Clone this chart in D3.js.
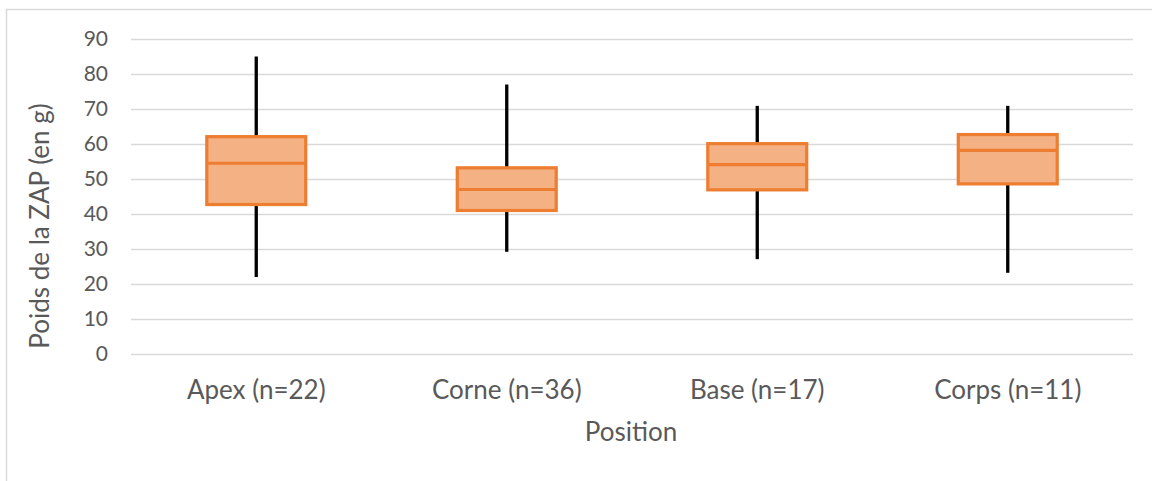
<!DOCTYPE html>
<html>
<head>
<meta charset="utf-8">
<script src="https://cdn.jsdelivr.net/npm/d3@7"></script>
<style>
  html, body { margin: 0; padding: 0; background: #fff; }
  svg { display: block; }
  text { font-family: Lato, "Open Sans", sans-serif; fill: #595959; }
</style>
</head>
<body>
<svg id="chart" width="1152" height="481"></svg>
<script>
const categories = ["Apex (n=22)", "Corne (n=36)", "Base (n=17)", "Corps (n=11)"];
const minValues    = [22, 29.2, 27.1, 23.2];
const q1Values     = [42.7, 41.0, 46.9, 48.6];
const medianValues = [54.5, 47.0, 54.1, 58.2];
const q3Values     = [62.1, 53.2, 60.1, 62.7];
const maxValues    = [85, 77, 70.9, 70.9];
const yTicks = [0, 10, 20, 30, 40, 50, 60, 70, 80, 90];
const xTitle = "Position";
const yTitle = "Poids de la ZAP (en g)";

const svg = d3.select("#chart");
const W = 1152, H = 481;
const plot = { left: 131, right: 1133, top: 39, bottom: 354 };

// chart border
svg.append("rect")
  .attr("x", 6.5).attr("y", 9.5)
  .attr("width", W + 10).attr("height", H + 10)
  .attr("fill", "#fff").attr("stroke", "#d9d9d9").attr("stroke-width", 1.5);

const x = d3.scaleBand().domain(categories).range([plot.left, plot.right]).padding(0);
const y = d3.scaleLinear().domain([0, 90]).range([plot.bottom, plot.top]);

// gridlines
const yAxis = d3.axisLeft(y).tickValues(yTicks).tickSize(-(plot.right - plot.left)).tickPadding(23);
const gy = svg.append("g").attr("transform", `translate(${plot.left},0)`).call(yAxis);
gy.select(".domain").remove();
gy.selectAll(".tick line").attr("stroke", "#d9d9d9").attr("stroke-width", 1.5);
gy.selectAll(".tick text").attr("font-size", 21).attr("fill", "#595959")
  .style("font-family", "Lato, sans-serif");

// x axis labels
const xAxis = d3.axisBottom(x).tickSize(0).tickPadding(0);
const gx = svg.append("g").attr("transform", `translate(0,${plot.bottom})`).call(xAxis);
gx.select(".domain").remove();
gx.selectAll(".tick text").attr("font-size", 26).attr("fill", "#595959")
  .attr("dy", null).attr("y", 45)
  .style("font-family", "Lato, sans-serif");

const data = categories.map((c, i) => ({
  cat: c, min: minValues[i], q1: q1Values[i], med: medianValues[i], q3: q3Values[i], max: maxValues[i]
}));

const boxW = x.bandwidth() * 0.395;
const g = svg.append("g");
const items = g.selectAll("g.box").data(data).join("g").attr("class", "box");

// whiskers
items.append("line")
  .attr("x1", d => x(d.cat) + x.bandwidth() / 2).attr("x2", d => x(d.cat) + x.bandwidth() / 2)
  .attr("y1", d => y(d.max)).attr("y2", d => y(d.q3))
  .attr("stroke", "#000").attr("stroke-width", 3.3);
items.append("line")
  .attr("x1", d => x(d.cat) + x.bandwidth() / 2).attr("x2", d => x(d.cat) + x.bandwidth() / 2)
  .attr("y1", d => y(d.q1)).attr("y2", d => y(d.min))
  .attr("stroke", "#000").attr("stroke-width", 3.3);

// boxes
items.append("rect")
  .attr("x", d => x(d.cat) + (x.bandwidth() - boxW) / 2)
  .attr("width", boxW)
  .attr("y", d => y(d.q3))
  .attr("height", d => y(d.q1) - y(d.q3))
  .attr("fill", "#f4b183").attr("stroke", "#ed7d31").attr("stroke-width", 3.2);

// medians
items.append("line")
  .attr("x1", d => x(d.cat) + (x.bandwidth() - boxW) / 2)
  .attr("x2", d => x(d.cat) + (x.bandwidth() + boxW) / 2)
  .attr("y1", d => y(d.med)).attr("y2", d => y(d.med))
  .attr("stroke", "#ed7d31").attr("stroke-width", 3.2);

// axis titles
svg.append("text")
  .attr("x", (plot.left + plot.right) / 2 - 1).attr("y", 434)
  .attr("text-anchor", "middle").attr("dominant-baseline", "middle")
  .attr("font-size", 26).text(xTitle);

svg.append("text")
  .attr("transform", "translate(42,226) rotate(-90)")
  .attr("text-anchor", "middle").attr("dominant-baseline", "middle")
  .attr("font-size", 26).text(yTitle);
</script>
</body>
</html>
